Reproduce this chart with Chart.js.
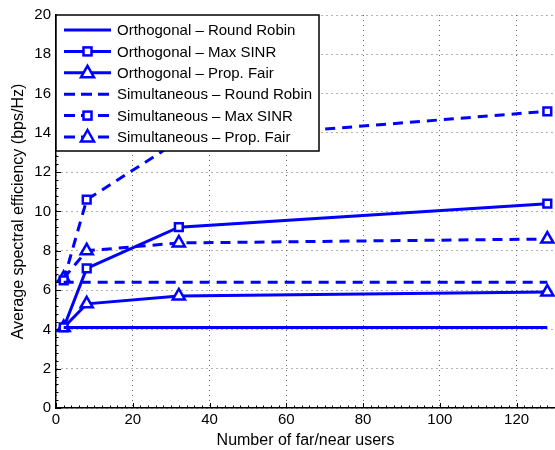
<!DOCTYPE html>
<html>
<head>
<meta charset="utf-8">
<script src="https://cdn.jsdelivr.net/npm/chart.js@4/dist/chart.umd.min.js"></script>
<style>
  html, body { margin: 0; padding: 0; background: #fff; }
  #wrap { width: 555px; height: 450px; }
</style>
</head>
<body>
<div id="wrap"><canvas id="seChart"></canvas></div>
<script>
// number of far/near users
const users = [2, 8, 32, 128];

// average spectral efficiency (bps/Hz)
const orthRR = [4.1, 4.1, 4.1, 4.1];
const orthMax = [4.1, 7.1, 9.2, 10.4];
const orthPF = [4.1, 5.3, 5.7, 5.9];
const simRR = [6.4, 6.4, 6.4, 6.4];
const simMax = [6.5, 10.6, 13.6, 15.1];
const simPF = [6.6, 8.0, 8.4, 8.6];

const seriesNames = [
  "Orthogonal \u2013 Round Robin",
  "Orthogonal \u2013 Max SINR",
  "Orthogonal \u2013 Prop. Fair",
  "Simultaneous \u2013 Round Robin",
  "Simultaneous \u2013 Max SINR",
  "Simultaneous \u2013 Prop. Fair",
];

const xTicks = [0, 20, 40, 60, 80, 100, 120];
const yTicks = [0, 2, 4, 6, 8, 10, 12, 14, 16, 18, 20];
const xMinorStep = 2;
const yMinorStep = 0.4;

const BLUE = "#0000ff";
const DASH = [10, 7];
const FONT = "Arial, 'Liberation Sans', Helvetica, sans-serif";

function toPoints(vals) {
  return users.map((u, i) => ({ x: u, y: vals[i] }));
}

function makeSet(label, vals, dashed, marker) {
  return {
    label: label,
    data: toPoints(vals),
    borderColor: BLUE,
    backgroundColor: BLUE,
    borderWidth: 3,
    borderDash: dashed ? DASH : [],
    pointStyle: marker || false,
    pointRadius: marker ? (marker === "rect" ? 5.5 : 7) : 0,
    pointBorderWidth: 2.5,
    pointBorderColor: BLUE,
    pointBackgroundColor: "#ffffff",
    tension: 0,
    fill: false,
  };
}

const datasets = [
  makeSet(seriesNames[0], orthRR, false, null),
  makeSet(seriesNames[1], orthMax, false, "rect"),
  makeSet(seriesNames[2], orthPF, false, "triangle"),
  makeSet(seriesNames[3], simRR, true, null),
  makeSet(seriesNames[4], simMax, true, "rect"),
  makeSet(seriesNames[5], simPF, true, "triangle"),
];

// small inward tick marks on the left and bottom axes
const innerTicks = {
  id: "innerTicks",
  afterDraw(chart) {
    const ctx = chart.ctx;
    const a = chart.chartArea;
    const xs = chart.scales.x, ys = chart.scales.y;
    ctx.save();
    ctx.strokeStyle = "#000";
    ctx.lineWidth = 1;
    ctx.beginPath();
    for (let v = xs.min; v <= xs.max + 1e-9; v += xMinorStep) {
      const px = Math.round(xs.getPixelForValue(v)) + 0.5;
      const len = xTicks.includes(Math.round(v)) ? 5 : 2.5;
      ctx.moveTo(px, a.bottom);
      ctx.lineTo(px, a.bottom - len);
    }
    for (let v = ys.min; v <= ys.max + 1e-9; v += yMinorStep) {
      const py = Math.round(ys.getPixelForValue(v)) + 0.5;
      const major = Math.abs(v / 2 - Math.round(v / 2)) < 1e-6;
      const len = major ? 5 : 2.5;
      ctx.moveTo(a.left, py);
      ctx.lineTo(a.left + len, py);
    }
    ctx.stroke();
    ctx.restore();
  },
};

// draws the boxed legend in the upper left corner of the plot
const boxLegend = {
  id: "boxLegend",
  afterDraw(chart) {
    const ctx = chart.ctx;
    const area = chart.chartArea;
    const left = area.left, top = area.top;
    const w = 263, h = 136;
    ctx.save();
    ctx.fillStyle = "#fff";
    ctx.fillRect(left, top, w, h);
    ctx.strokeStyle = "#000";
    ctx.lineWidth = 1.5;
    ctx.strokeRect(left, top, w, h);

    ctx.font = "15px " + FONT;
    ctx.textBaseline = "middle";
    chart.data.datasets.forEach((ds, i) => {
      const y = top + 15 + i * 21.4;
      const x0 = left + 8, x1 = left + 55;
      ctx.strokeStyle = ds.borderColor;
      ctx.lineWidth = ds.borderWidth;
      ctx.setLineDash(ds.borderDash.length ? [11, 6] : []);
      ctx.beginPath();
      ctx.moveTo(x0, y);
      ctx.lineTo(x1, y);
      ctx.stroke();
      ctx.setLineDash([]);
      const cx = (x0 + x1) / 2;
      if (ds.pointStyle === "rect") {
        ctx.fillStyle = "#fff";
        ctx.fillRect(cx - 4, y - 4, 8, 8);
        ctx.lineWidth = 2.5;
        ctx.strokeRect(cx - 4, y - 4, 8, 8);
      } else if (ds.pointStyle === "triangle") {
        ctx.fillStyle = "#fff";
        ctx.beginPath();
        ctx.moveTo(cx, y - 7);
        ctx.lineTo(cx + 6.5, y + 4.5);
        ctx.lineTo(cx - 6.5, y + 4.5);
        ctx.closePath();
        ctx.fill();
        ctx.lineWidth = 2.5;
        ctx.stroke();
      }
      ctx.fillStyle = "#000";
      ctx.fillText(ds.label, left + 61, y + 1);
    });
    ctx.restore();
  },
};

const ctx = document.getElementById("seChart").getContext("2d");
new Chart(ctx, {
  type: "line",
  data: { datasets: datasets },
  options: {
    responsive: true,
    maintainAspectRatio: false,
    animation: false,
    devicePixelRatio: 1,
    layout: { autoPadding: false, padding: { top: 15, right: 0, left: 0, bottom: 0 } },
    plugins: {
      legend: { display: false },
      tooltip: { enabled: false },
    },
    scales: {
      x: {
        type: "linear",
        min: 0,
        max: 130,
        afterBuildTicks: (s) => { s.ticks = xTicks.map((v) => ({ value: v })); },
        afterFit: (s) => { s.height = 42; },
        ticks: {
          color: "#000",
          font: { family: FONT, size: 15 },
          padding: 3,
          maxRotation: 0,
        },
        grid: {
          color: "#666",
          lineWidth: 1,
          drawTicks: false,
        },
        border: { display: true, color: "#000", width: 1.5, dash: [1, 4] },
        title: {
          display: true,
          text: "Number of far/near users",
          color: "#000",
          font: { family: FONT, size: 16 },
          padding: { top: 0, bottom: 0 },
        },
      },
      y: {
        min: 0,
        max: 20,
        afterBuildTicks: (s) => { s.ticks = yTicks.map((v) => ({ value: v })); },
        afterFit: (s) => { s.width = 56; },
        ticks: {
          color: "#000",
          font: { family: FONT, size: 15 },
          padding: 5,
        },
        grid: {
          color: "#666",
          lineWidth: 1,
          drawTicks: false,
        },
        border: { display: true, color: "#000", width: 1.5, dash: [1, 4] },
        title: {
          display: true,
          text: "Average spectral efficiency (bps/Hz)",
          color: "#000",
          font: { family: FONT, size: 16 },
          padding: { top: 9, bottom: 0 },
        },
      },
    },
  },
  plugins: [innerTicks, boxLegend],
});
</script>
</body>
</html>
